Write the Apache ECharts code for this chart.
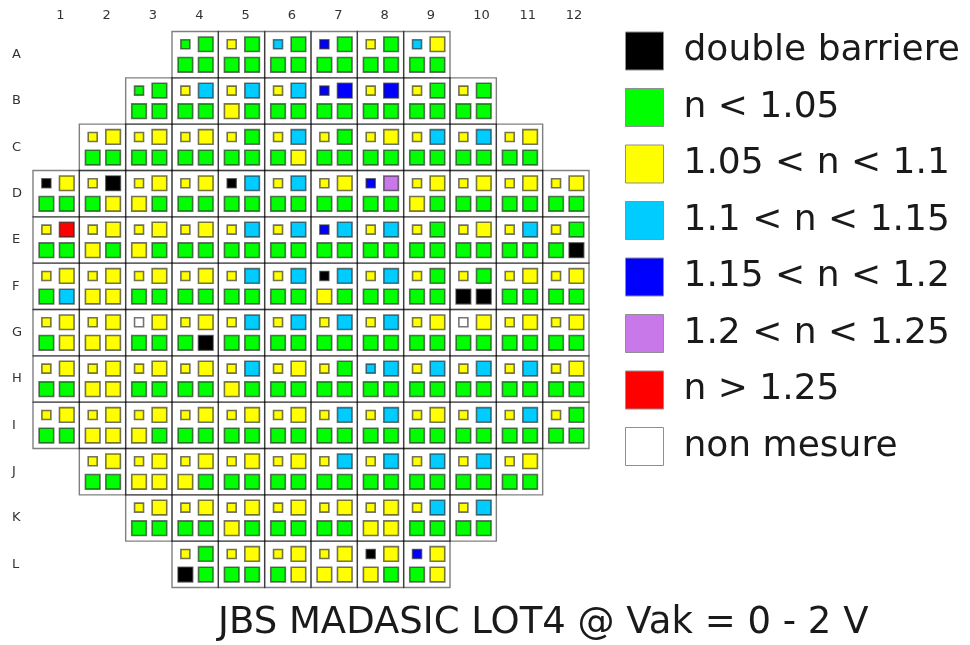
<!DOCTYPE html>
<html>
<head>
<meta charset="utf-8">
<title>JBS MADASIC LOT4</title>
<script src="https://cdn.jsdelivr.net/npm/echarts@6/dist/echarts.min.js"></script>
<style>
  html, body { margin: 0; padding: 0; background: #ffffff; }
  #chart { width: 970px; height: 645px; }
</style>
</head>
<body>
<div id="chart"></div>
<script>
// Wafer columns and rows
const columns = ['1', '2', '3', '4', '5', '6', '7', '8', '9', '10', '11', '12'];
const rows = ['A', 'B', 'C', 'D', 'E', 'F', 'G', 'H', 'I', 'J', 'K', 'L'];

// Ideality factor classes (legend order) and their one-letter codes
const classNames = ['double barriere', 'n < 1.05', '1.05 < n < 1.1', '1.1 < n < 1.15',
                    '1.15 < n < 1.2', '1.2 < n < 1.25', 'n > 1.25', 'non mesure'];
const classCodes = ['K', 'G', 'Y', 'C', 'B', 'P', 'R', 'W'];
const classColors = ['#000000', '#00ff00', '#ffff00', '#00ccff', '#0000ff', '#c878e8', '#ff0000', '#ffffff'];

// First populated column of each row (1-based)
const firstColumn = [4, 3, 2, 1, 1, 1, 1, 1, 1, 2, 3, 4];

// Each die holds 4 diodes: top-left (small), top-right, bottom-left, bottom-right
const rowA = ['GGGG', 'YGGG', 'CGGG', 'BGGG', 'YGGG', 'CYGG'];
const rowB = ['GGGG', 'YCGG', 'YCYG', 'YCGG', 'BBGG', 'YBGG', 'YGGG', 'YGGG'];
const rowC = ['YYGG', 'YYGG', 'YYGG', 'YGGG', 'YCGY', 'YGGG', 'YYGG', 'YCGG', 'YCGG', 'YYGG'];
const rowD = ['KYGG', 'YKGY', 'YYYG', 'YYGG', 'KCGG', 'YCGG', 'YYGG', 'BPGG', 'YYYG', 'YYGG', 'YYGG', 'YYGG'];
const rowE = ['YRGG', 'YYYG', 'YYYG', 'YYGG', 'YCGG', 'YCGG', 'BCGG', 'YCGG', 'YGGG', 'YYGG', 'YCGG', 'YGGK'];
const rowF = ['YYGC', 'YYYY', 'YYGG', 'YYGG', 'YCGG', 'YCGG', 'KCYG', 'YCGG', 'YGGG', 'YGKK', 'YYGG', 'YYGG'];
const rowG = ['YYGY', 'YYYY', 'WYGG', 'YYGK', 'YCGG', 'YCGG', 'YCGG', 'YCGG', 'YYGG', 'WYGG', 'YYGG', 'YYGG'];
const rowH = ['YYGG', 'YYYY', 'YYGG', 'YYGG', 'YCYG', 'YYGG', 'YGGG', 'CCGG', 'YCGG', 'YCGG', 'YCGG', 'YYGG'];
const rowI = ['YYGG', 'YYYY', 'YYYG', 'YYGG', 'YYGG', 'YYGG', 'YCGG', 'YCGG', 'YYGG', 'YCGG', 'YCGG', 'YGGG'];
const rowJ = ['YYGG', 'YYYY', 'YYYG', 'YYGG', 'YYGG', 'YCGG', 'YCGG', 'YCGG', 'YCGG', 'YYGG'];
const rowK = ['YYGG', 'YYGG', 'YYYG', 'YYGG', 'YYGG', 'YYYY', 'YCGG', 'YCGG'];
const rowL = ['YGKG', 'YYGG', 'YYGY', 'YYYY', 'KYYG', 'BYGY'];
const waferRows = [rowA, rowB, rowC, rowD, rowE, rowF, rowG, rowH, rowI, rowJ, rowK, rowL];

// Plot geometry
const GRID_LEFT = 33, GRID_TOP = 31.5, GRID_SIZE = 556;
const CELL = GRID_SIZE / columns.length;
const FONT = 'DejaVu Sans';

// Diode placement inside a die: pixel offset from die centre and symbol size
const diodeOffsets = [[-9.8, -10.4], [10.6, -10.4], [-9.8, 10.2], [10.6, 10.2]];
const diodeSizes = [9, 14.6, 14.6, 14.6];

const dieData = [];
const classData = classCodes.map(() => []);
waferRows.forEach((dies, r) => {
  dies.forEach((code, k) => {
    const c = firstColumn[r] - 1 + k;
    dieData.push([c, r]);
    for (let d = 0; d < 4; d++) {
      const cls = classCodes.indexOf(code[d]);
      classData[cls].push({
        value: [c, r],
        symbolSize: diodeSizes[d],
        symbolOffset: diodeOffsets[d]
      });
    }
  });
});

const series = [{
  name: 'die',
  type: 'scatter',
  symbol: 'rect',
  symbolSize: CELL,
  silent: true,
  z: 1,
  itemStyle: { color: 'rgba(0,0,0,0)', borderColor: 'rgba(0,0,0,0.5)', borderWidth: 1.4, opacity: 1 },
  data: dieData
}];
classNames.forEach((name, i) => {
  series.push({
    name: name,
    type: 'scatter',
    symbol: 'rect',
    z: 3,
    itemStyle: {
      color: classColors[i],
      borderColor: 'rgba(30,30,30,0.62)',
      borderWidth: 1.6,
      opacity: 1
    },
    emphasis: { disabled: true },
    data: classData[i]
  });
});

const chart = echarts.init(document.getElementById('chart'), null, { renderer: 'canvas' });
chart.setOption({
  backgroundColor: '#ffffff',
  animation: false,
  textStyle: { fontFamily: FONT },
  title: {
    text: 'JBS MADASIC LOT4 @ Vak = 0 - 2 V',
    left: 218,
    top: 605,
    padding: 0,
    textStyle: { fontFamily: FONT, fontSize: 37, fontWeight: 'normal', color: '#1a1a1a' }
  },
  legend: {
    data: classNames,
    orient: 'vertical',
    left: 625,
    top: 31.5,
    padding: 0,
    itemWidth: 38,
    itemHeight: 38,
    itemGap: 17.5,
    icon: 'rect',
    selectedMode: false,
    itemStyle: { borderColor: '#8f8f8f', borderWidth: 1, opacity: 1 },
    textStyle: { fontFamily: FONT, fontSize: 36, color: '#1a1a1a', padding: [0, 0, 0, 15] }
  },
  grid: { left: GRID_LEFT, top: GRID_TOP, width: GRID_SIZE, height: GRID_SIZE },
  xAxis: {
    type: 'category',
    data: columns,
    position: 'top',
    axisLine: { show: false },
    axisTick: { show: false },
    splitLine: { show: false },
    axisLabel: { align: 'left', margin: 9, fontSize: 13, color: '#333333', fontFamily: FONT }
  },
  yAxis: {
    type: 'category',
    data: rows,
    inverse: true,
    axisLine: { show: false },
    axisTick: { show: false },
    splitLine: { show: false },
    axisLabel: { align: 'left', margin: 21, fontSize: 13, color: '#333333', fontFamily: FONT }
  },
  series: series
});
</script>
</body>
</html>
